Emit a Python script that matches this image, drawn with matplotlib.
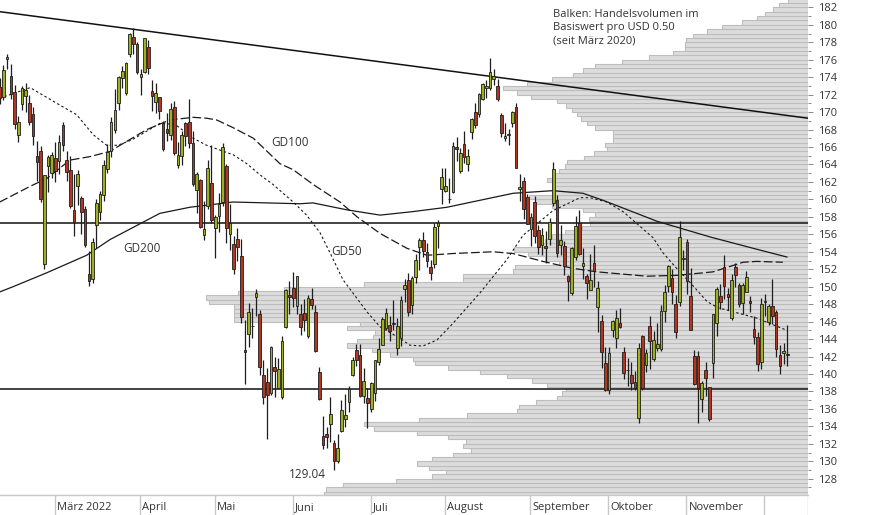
import matplotlib
matplotlib.use("Agg")
import matplotlib.pyplot as plt
import numpy as np
import pandas as pd

plt.rcParams['font.family'] = ['Open Sans', 'DejaVu Sans']

# trading days shown (Feb 7 - Dec 9 2022, US market holidays skipped)
holidays = ["2022-02-21", "2022-04-15", "2022-05-30", "2022-06-20",
            "2022-07-04", "2022-09-05", "2022-11-24"]
dates = pd.bdate_range("2022-02-07", "2022-12-09", freq="C", holidays=holidays)

opens = [
    172.86, 171.73, 176.05, 174.14, 172.33, 167.37, 170.97, 171.85, 171.03, 169.82, 164.98, 165.54, 152.58, 163.84, 163.06,
    164.70, 164.39, 168.47, 164.49, 163.36, 158.82, 161.48, 160.20, 158.93, 151.45, 150.90, 157.05, 158.61, 160.51, 163.51, 165.51, 167.99, 171.06, 173.88, 172.17, 176.69, 178.55, 177.84,
    174.03, 174.57, 177.50, 172.36, 171.16, 171.78, 168.71, 168.02, 167.39, 170.62, 163.92, 165.02, 168.76, 168.91, 166.46, 161.12, 162.25, 155.91, 159.25, 161.84,
    156.71, 158.15, 159.67, 163.85, 156.01, 154.93, 155.52, 153.50, 142.77, 144.59, 145.55, 148.86, 146.85, 139.88, 139.09, 137.79, 140.81, 138.43, 137.39, 145.39, 149.07,
    149.90, 147.83, 146.90, 147.03, 144.35, 148.58, 147.08, 140.28, 132.87, 133.13, 134.29, 132.08, 130.07, 133.42, 134.79, 136.82, 139.90, 142.70, 142.13, 137.46, 137.25,
    136.04, 137.77, 141.35, 143.29, 145.26, 145.67, 145.76, 142.99, 144.08, 149.78, 150.74, 147.92, 151.12, 154.50, 155.39, 154.01, 152.26, 152.58, 156.98, 161.24,
    161.01, 160.10, 160.84, 166.01, 163.21, 166.37, 164.02, 167.68, 170.06, 169.82, 171.52, 172.78, 172.77, 173.75, 173.03, 169.69, 167.08, 167.32, 168.78, 170.57, 161.15, 162.13, 160.31,
    156.64, 159.75, 156.47, 154.82, 154.64, 155.47, 159.59, 159.90, 154.79, 154.65, 151.21, 149.31, 153.40, 157.34, 152.38, 151.19, 149.66, 152.74, 147.64, 146.10, 141.28,
    138.21, 145.03, 144.07, 145.81, 142.54, 140.42, 139.90, 139.13, 134.99, 144.31, 141.07, 145.49, 141.69, 143.02, 142.87, 147.19, 150.09, 150.96, 148.07, 148.20, 153.16,
    155.08, 148.95, 142.06, 142.09, 137.11, 140.41, 138.50, 141.24, 145.82, 148.97, 152.22, 149.13, 146.43, 152.31, 150.16, 148.13, 149.45, 148.31, 145.14, 144.29, 141.40,
    148.21, 145.96, 147.77, 147.07, 142.19, 142.36, 142.34,
]
highs = [
    173.95, 175.35, 176.65, 175.48, 173.08, 169.58, 172.95, 173.34, 171.91, 170.54, 166.69, 166.15, 162.85, 165.12, 165.42,
    166.60, 167.36, 168.91, 165.55, 165.02, 162.88, 163.41, 160.39, 159.28, 154.12, 155.57, 160.00, 161.00, 164.48, 166.35, 169.42, 172.64, 174.14, 175.28, 175.73, 179.01, 179.61, 178.03,
    174.88, 178.49, 178.30, 173.63, 173.36, 171.78, 169.03, 169.87, 171.04, 171.27, 166.60, 167.82, 168.88, 171.53, 167.87, 163.17, 162.34, 159.79, 164.52, 166.20,
    158.23, 160.71, 166.48, 164.08, 159.44, 155.83, 156.74, 155.45, 146.20, 148.10, 147.52, 149.77, 147.36, 141.66, 140.70, 143.26, 141.97, 141.79, 144.34, 149.68, 150.66,
    151.74, 151.27, 147.97, 148.57, 149.00, 149.87, 147.95, 140.76, 135.20, 133.89, 137.34, 132.39, 133.08, 137.06, 137.76, 138.59, 141.91, 143.49, 143.42, 140.67, 138.37,
    139.04, 141.61, 144.12, 146.55, 147.55, 146.64, 148.45, 146.45, 148.95, 150.86, 151.57, 151.23, 153.72, 155.57, 156.28, 155.04, 153.09, 157.33, 157.64, 163.63,
    163.59, 162.41, 166.59, 167.19, 165.85, 167.81, 165.82, 169.34, 170.99, 172.17, 173.39, 173.71, 176.15, 174.90, 173.74, 169.86, 168.71, 168.11, 170.14, 171.05, 162.90, 162.56, 160.58,
    158.42, 160.36, 157.09, 156.67, 156.36, 157.82, 164.26, 160.54, 157.10, 155.24, 151.35, 154.56, 158.08, 158.74, 154.47, 151.47, 153.77, 154.72, 150.64, 146.72, 143.10,
    143.07, 146.22, 147.38, 147.54, 143.10, 141.89, 141.35, 140.36, 143.59, 144.52, 142.90, 146.70, 144.95, 145.89, 147.85, 150.23, 152.49, 151.99, 149.05, 157.50, 154.24,
    155.45, 152.17, 142.80, 142.67, 139.15, 141.43, 138.55, 146.87, 150.01, 150.28, 153.59, 149.87, 151.48, 152.70, 150.37, 150.42, 151.83, 148.88, 146.64, 144.81, 148.72,
    149.13, 148.00, 150.92, 147.30, 143.37, 143.52, 145.57,
]
lows = [
    170.95, 171.43, 174.90, 171.55, 168.04, 166.56, 170.25, 170.05, 168.47, 166.19, 162.15, 159.75, 152.00, 160.87, 162.43,
    161.97, 162.95, 165.55, 162.10, 159.04, 155.80, 159.41, 155.98, 154.50, 150.10, 150.38, 154.46, 157.63, 159.76, 163.01, 164.91, 167.65, 170.21, 172.75, 172.00, 176.34, 176.70, 174.40,
    171.94, 174.44, 174.42, 170.13, 169.85, 169.20, 165.50, 166.64, 166.77, 165.04, 163.57, 163.91, 166.10, 165.91, 161.50, 158.46, 156.72, 155.38, 158.93, 157.25,
    153.27, 156.32, 159.26, 154.95, 154.18, 151.49, 152.93, 145.81, 138.80, 143.11, 144.18, 146.68, 139.90, 136.60, 132.61, 137.65, 137.33, 138.34, 137.14, 145.26, 146.84,
    147.68, 146.86, 144.46, 144.90, 144.10, 147.46, 142.53, 137.06, 131.44, 131.48, 132.16, 129.04, 129.81, 133.32, 133.91, 135.63, 139.77, 140.97, 137.32, 136.67, 133.77,
    135.66, 136.93, 141.08, 143.28, 145.00, 143.78, 145.05, 142.12, 143.25, 148.20, 146.70, 146.91, 150.37, 151.94, 153.41, 152.28, 150.80, 152.16, 154.41, 159.50,
    160.89, 159.63, 160.75, 164.43, 163.00, 164.20, 163.25, 166.90, 168.19, 169.40, 171.35, 171.66, 172.57, 173.12, 171.31, 167.14, 166.65, 166.25, 168.35, 163.56, 159.82, 157.72, 157.14,
    154.67, 154.97, 153.69, 153.61, 152.68, 154.75, 159.30, 153.37, 153.61, 151.38, 148.37, 149.10, 153.08, 153.60, 150.91, 148.56, 149.64, 149.95, 144.84, 140.68, 138.00,
    137.69, 144.26, 143.01, 145.22, 139.45, 138.57, 138.22, 138.16, 134.37, 138.19, 140.27, 140.61, 141.50, 142.65, 142.65, 146.00, 149.36, 148.04, 144.13, 147.82, 151.92,
    149.13, 145.00, 138.75, 134.38, 135.67, 137.49, 134.59, 139.50, 144.37, 147.43, 148.56, 147.29, 146.15, 149.97, 147.72, 146.93, 149.34, 147.12, 143.38, 140.35, 140.55,
    146.61, 145.65, 145.77, 141.92, 140.00, 141.10, 140.90,
]
closes = [
    171.66, 174.83, 176.28, 172.12, 168.64, 168.88, 172.79, 172.55, 168.88, 167.30, 164.32, 160.07, 162.74, 164.85, 165.12,
    163.20, 166.56, 166.23, 163.17, 159.30, 157.44, 162.95, 158.52, 154.73, 150.62, 155.09, 159.59, 160.62, 163.98, 165.38, 168.82, 170.21, 174.07, 174.72, 175.60, 178.96, 177.77, 174.61,
    174.31, 178.44, 175.06, 171.83, 172.14, 170.09, 165.75, 167.66, 170.40, 165.29, 165.07, 167.40, 167.23, 166.42, 161.79, 162.88, 156.80, 156.57, 163.64, 157.65,
    157.96, 159.48, 166.02, 156.77, 157.28, 152.06, 154.51, 146.50, 142.56, 147.11, 145.54, 149.24, 140.82, 137.35, 137.59, 143.11, 140.36, 140.52, 143.78, 149.64, 148.84,
    148.71, 151.21, 145.38, 146.14, 148.71, 147.96, 142.64, 137.13, 131.88, 132.76, 135.43, 130.06, 131.56, 135.87, 135.35, 138.27, 141.66, 141.66, 137.44, 139.23, 136.72,
    138.93, 141.56, 142.92, 146.35, 147.04, 144.87, 145.86, 145.49, 148.47, 150.17, 147.07, 151.00, 153.04, 155.35, 154.09, 152.95, 151.60, 156.79, 157.35, 162.51,
    161.51, 160.01, 166.13, 165.81, 165.35, 164.87, 164.92, 169.24, 168.49, 172.10, 173.19, 173.03, 174.55, 174.15, 171.52, 167.57, 167.23, 167.53, 170.03, 163.62, 161.38, 158.91, 157.22,
    157.96, 155.81, 154.53, 155.96, 154.46, 157.37, 163.43, 153.84, 155.31, 152.37, 150.70, 154.48, 156.90, 153.72, 152.74, 150.43, 150.77, 151.76, 149.84, 142.48, 138.20,
    142.45, 146.10, 146.40, 145.43, 140.09, 140.42, 138.98, 138.34, 142.99, 138.38, 142.41, 143.75, 143.86, 143.39, 147.27, 149.45, 152.34, 149.35, 144.80, 155.74, 153.34,
    150.65, 145.03, 138.88, 138.38, 138.92, 139.50, 134.87, 146.87, 149.70, 148.28, 150.04, 148.79, 150.72, 151.29, 148.01, 150.18, 151.07, 148.11, 144.22, 141.17, 148.03,
    148.31, 147.81, 146.63, 142.91, 140.94, 142.65, 142.16,
]

# moving averages (trading-day index, price)
gd50_idx = [0, 2.8, 8.2, 16.2, 20.7, 25.2, 28.8, 31.8, 35.5, 43.1, 47.2, 52.1, 55.7, 62.9, 66.5, 70.1, 73.6, 79.0,
            82.6, 86.2, 88.9, 92.4, 98.9, 102.4, 107.7, 110.4, 113.9, 117.7, 122.0, 129.3, 136.5, 140.9, 148.9,
            156.2, 158.9, 163.4, 167.8, 170.5, 175.9, 178.5, 181.8, 185.8, 190.4, 193.3, 203.8, 211.9]
gd50_val = [171.6, 172.0, 172.8, 170.8, 169.7, 167.4, 166.2, 166.2, 166.8, 168.7, 168.6, 167.0, 166.2, 165.1, 164.1,
            162.8, 161.7, 159.7, 158.2, 156.2, 153.9, 150.8, 147.1, 145.4, 144.1, 143.3, 143.2, 143.9, 145.8, 149.3,
            153.1, 155.9, 158.7, 160.2, 160.2, 159.7, 158.6, 157.6, 155.6, 153.9, 152.3, 150.5, 148.3, 147.6, 146.4, 145.0]

gd100_idx = [0, 8.2, 12.7, 18.9, 24.3, 29.7, 32.4, 39.6, 45.8, 52.1, 55.7, 58.4, 62.9, 68.3, 71.0, 75.4, 79.0,
             84.4, 88.0, 91.6, 96.2, 102.4, 109.6, 115.0, 122.0, 132.8, 138.2, 146.2, 154.3, 160.8, 174.2,
             182.3, 192.0, 200.1, 203.8, 210.8]
gd100_val = [159.7, 161.5, 162.4, 164.5, 164.9, 165.5, 166.2, 168.0, 169.1, 169.4, 169.3, 169.1, 168.2, 167.0, 165.9,
             164.1, 163.4, 161.7, 160.7, 159.7, 158.0, 156.1, 154.4, 153.6, 153.8, 154.0, 153.8, 152.9, 152.1, 151.7,
             151.2, 151.3, 151.7, 152.8, 152.9, 152.8]

gd200_idx = [0, 3.6, 12.7, 23.4, 29.7, 43.1, 51.2, 62.8, 80.8, 84.3, 93.5, 102.4, 111.2, 120.4, 129.3, 138.2,
             148.9, 157.0, 162.4, 176.9, 191.2, 202.8, 211.9]
gd200_val = [149.4, 150.0, 151.6, 153.6, 155.4, 158.4, 159.1, 159.7, 159.5, 159.6, 158.8, 158.2, 158.6, 159.1, 159.9,
             160.7, 161.0, 160.7, 159.9, 157.5, 155.7, 154.4, 153.4]

# volume profile: bars per USD 0.50 from 126.0 up to 182.5 (length in chart units)
bin_low = np.arange(126.0, 183.0, 0.5)
volume = [484, 482, 465, 412, 376, 362, 379, 391, 376, 355, 337, 345, 342, 360, 391, 434, 444, 389, 341, 291,
          289, 272, 251, 246, 242, 261, 276, 301, 328, 360, 393, 395, 418, 436, 461, 451, 435, 433, 461, 448,
          574, 574, 574, 574, 599, 602, 570, 524, 444, 345, 345, 295, 293, 249, 263, 280, 294, 268, 263, 256,
          243, 226, 218, 219, 213, 225, 256, 273, 279, 254, 254, 254, 261, 254, 249, 243, 241, 224, 214, 201,
          203, 195, 195, 195, 213, 221, 227, 231, 236, 242, 251, 277, 291, 305, 281, 256, 235, 225, 213, 186,
          159, 135, 123, 123, 122, 115, 101, 86, 66, 51, 43, 35, 29, 20]

trend_prices = [181.5, 169.3]     # descending resistance, left edge -> right edge
levels = [157.25, 138.3]
month_labels = ["März 2022", "April", "Mai", "Juni", "Juli", "August", "September", "Oktober", "November", ""]

W, H = 874, 515
plot_w, strip_h = 808, 20
px_day, x_off = 3.715, -0.3
x0 = (0 - x_off) / px_day
x1 = (plot_w - x_off) / px_day

fig = plt.figure(figsize=(W / 100, H / 100), dpi=100)
ax = fig.add_axes([0, strip_h / H, plot_w / W, 1 - strip_h / H])
axv = ax.twiny()
axv.set_zorder(0)
ax.set_zorder(1)
ax.patch.set_visible(False)

# volume bars
axv.barh(bin_low + 0.25, volume, height=0.5, color='#dcdcdc', edgecolor='#bdbdbd', linewidth=0.8)
axv.set_xlim(plot_w, 0)
axv.set_xticks([])

ax.set_xlim(x0, x1)
ax.set_ylim(126.14, 182.84)

# lines
ax.plot([x0, x1], trend_prices, color='#111', lw=1.1, zorder=2)
for lv in levels:
    ax.axhline(lv, color='#111', lw=1.1, zorder=2)
ax.plot(gd200_idx, gd200_val, color='#1a1a1a', lw=0.9, zorder=3)
ax.plot(gd100_idx, gd100_val, color='#1a1a1a', lw=0.9, dashes=(7, 2.5), zorder=3)
ax.plot(gd50_idx, gd50_val, color='#1a1a1a', lw=0.8, dashes=(2.2, 2.2), zorder=3)

# candles
o = np.array(opens)
c = np.array(closes)
idx = np.arange(len(dates))
cols = np.where(c >= o, '#9fb01e', '#b3361f')
ax.vlines(idx, lows, highs, color='#1e1e1e', lw=0.9, zorder=4)
ax.bar(idx, np.abs(c - o), bottom=np.minimum(o, c), width=0.72, color=cols,
       edgecolor='#1e1e1e', linewidth=0.6, zorder=5)

# labels
txt = dict(fontsize=8.5, color='#333', ha='center', va='center', zorder=6)
ax.text(78.1, 166.5, "GD100", **txt)
ax.text(38.2, 154.4, "GD200", **txt)
ax.text(93.5, 154.0, "GD50", **txt)
lo_i = int(np.argmin(lows))
ax.text(lo_i - 2.2, lows[lo_i] - 0.5, f"{lows[lo_i]:.2f}", fontsize=8.5, color='#333',
        ha='right', va='center', zorder=6)
fig.text(553 / W, 1 - 9 / H, "Balken: Handelsvolumen im\nBasiswert pro USD 0.50\n(seit März 2020)",
         fontsize=8, color='#333', ha='left', va='top', linespacing=1.3)

# y axis on the right
ax.yaxis.tick_right()
ax.set_yticks(np.arange(128, 183, 2))
ax.set_yticks(np.arange(127, 183, 2), minor=True)
ax.tick_params(axis='y', which='major', length=3.6, width=0.7, color='#888',
               labelsize=8, labelcolor='#333', pad=3.5)
ax.tick_params(axis='y', which='minor', length=2.2, width=0.7, color='#888')
ax.set_xticks([])
for a in (ax, axv):
    for s in a.spines.values():
        s.set_visible(False)

# month strip
axd = fig.add_axes([0, 0, plot_w / W, strip_h / H])
axd.set_xlim(x0, x1)
axd.set_ylim(0, 1)
axd.axis('off')
axd.axhline(1, color='#c8c8c8', lw=1, clip_on=False)
month_start = [i for i in range(1, len(dates)) if dates[i].month != dates[i - 1].month]
for i, lab in zip(month_start, month_labels):
    axd.vlines(i - 0.15, 0, 1, color='#c8c8c8', lw=1)
    axd.text(i - 0.15 + 2 / px_day, 0.375, lab, fontsize=8, color='#333', ha='left', va='center')
axd.vlines(x1 - 0.1, 0, 1, color='#c8c8c8', lw=1)

fig.savefig("out.png", dpi=100)
